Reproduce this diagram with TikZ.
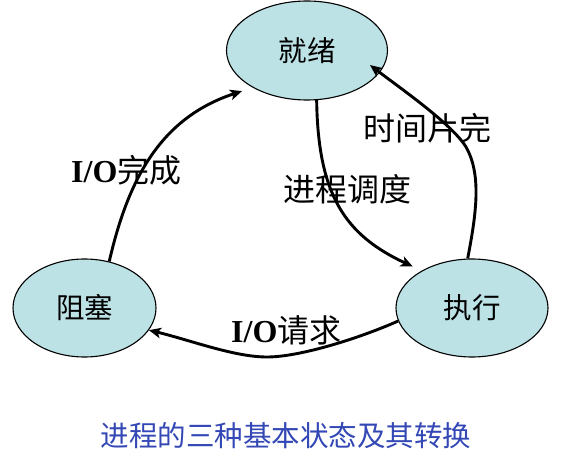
\documentclass[tikz,border=0pt]{standalone}
\usepackage{fontspec}
\setmainfont{Liberation Serif}
\newfontfamily\cjk{Noto Sans CJK SC}
\newfontfamily\lat{Liberation Serif}
\usetikzlibrary{shapes.geometric,arrows.meta,calc}
\definecolor{statefill}{RGB}{188,226,229}
\definecolor{capblue}{RGB}{51,71,181}
\begin{document}
\begin{tikzpicture}[x=1pt,y=-1pt,
  state/.style={ellipse, draw=black, line width=1.1pt, fill=statefill, inner sep=0pt,
    font=\cjk\fontsize{28.5}{30}\selectfont},
  trans/.style={line width=2.9pt, -{Stealth[length=12pt,width=10.5pt,inset=3pt]}},
  elabel/.style={font=\cjk\fontsize{32}{34}\selectfont, inner sep=0pt},
  caplabel/.style={font=\cjk\fontsize{28.5}{30}\selectfont, inner sep=0pt, text=capblue}]
\useasboundingbox (0,0) rectangle (570,470);
% states
\node[state, minimum width=161pt, minimum height=99pt] (jx) at (307,50.5) {就绪};
\node[state, minimum width=143pt, minimum height=98pt] (zs) at (84.5,308) {阻塞};
\node[state, minimum width=152pt, minimum height=98pt] (zx) at (472,308) {执行};
% labels
\node[elabel, anchor=west] (l1) at (71,170) {{\lat\bfseries I/O}完成};
\node[elabel] (l2) at (427.5,128) {时间片完};
\node[elabel] (l3) at (347.5,189) {进程调度};
\node[elabel, anchor=west] (l4) at (231,330) {{\lat\bfseries I/O}请求};
\node[caplabel] (cap) at (286,436) {进程的三种基本状态及其转换};
% transitions
\draw[trans] (zs.62) .. controls (128,180) and (160,118) .. ($(jx.center)!1.14!(jx.212)$);
\draw[trans] (jx.281) .. controls (318,195) and (345,235) .. ($(zx.center)!1.14!(zx.145)$);
\draw[trans] (zx.95) .. controls (476,215) and (482,175) .. (466,147)
  .. controls (452,124) and (400,88) .. ($(jx.center)!0.83!(jx.347)$);
\draw[trans] (zx.190) .. controls (360,338) and (300,357) .. (267,357)
  .. controls (234,357) and (190,340) .. (zs.341);
\end{tikzpicture}
\end{document}
